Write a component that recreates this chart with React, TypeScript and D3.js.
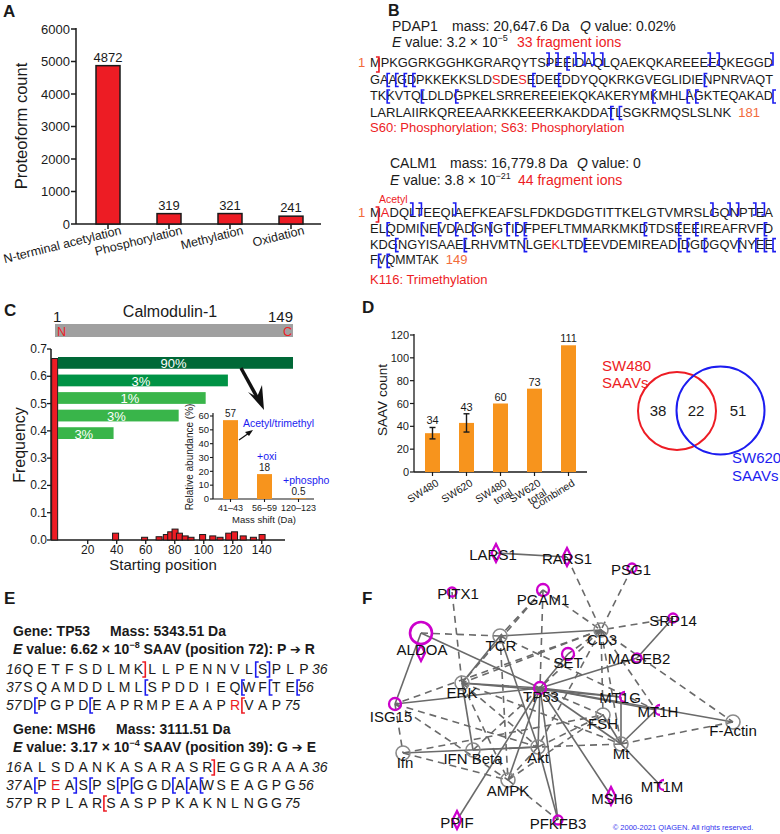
import React from 'react';
import * as d3 from 'd3';

const FONT = "'Liberation Sans', Arial, Helvetica, sans-serif";
const RED = '#ED1C24';
const BLUE = '#1C1CF0';
const ORANGE = '#F7941D';
const SEQ_ORANGE = '#F26B3A';
const MAGENTA = '#CC00CC';
const INK = '#1a1a1a';

// ---------- Panel A ----------
const ptmCategories = ['N-terminal acetylation', 'Phosphorylation', 'Methylation', 'Oxidation'];
const ptmCounts = [4872, 319, 321, 241];
const ptmTicks = [0, 1000, 2000, 3000, 4000, 5000, 6000];

// ---------- Panel B ----------
const pdap1Rows = [
  'MPKGGRKGGHKGRARQYTSPEEIDAQLQAEKQKAREEEEQKEGGD',
  'GAAGDPKKEKKSLDSDESEDEEDDYQQKRKGVEGLIDIENPNRVAQT',
  'TKKVTQLDLDGPKELSRREREEIEKQKAKERYMKMHLAGKTEQAKAD',
  'LARLAIIRKQREEAARKKEEERKAKDDATLSGKRMQSLSLNK',
];
const pdap1Starts = [1, 46, 93, 140];
const pdap1Mods = [60, 63];
const pdap1BIons = [20, 21, 23, 24, 25, 26, 38, 39, 45];
const pdap1YIons = [22, 47, 48, 49, 50, 64, 67, 84, 94, 98, 102, 125, 129, 130, 139, 167, 168];
const calm1Rows = [
  'MADQLTEEQIAEFKEAFSLFDKDGDGTITTKELGTVMRSLGQNPTEA',
  'ELQDMINEVDADGNGTIDFPEFLTMMARKMKDTDSEEEIREAFRVFD',
  'KDGNGYISAAELRHVMTNLGEKLTDEEVDEMIREADIDGDGQVNYEE',
  'FVQMMTAK',
];
const calm1Starts = [1, 48, 95, 142];
const calm1Mods = [2, 116];
const calm1BIons = [5, 6, 10, 40, 42, 43, 45, 46];
const calm1YIons = [49, 53, 55, 57, 59, 61, 63, 64, 65, 79, 83, 85, 93, 97, 105, 112, 119, 130, 131, 133, 137, 139, 140, 141, 142, 143];

// ---------- Panel C ----------
const coverageLabels = ['90%', '3%', '1%', '3%', '3%'];
const coverageEnds = [149, 108, 94, 77, 36];
const coverageColors = ['#006837', '#009245', '#39B54A', '#39B54A', '#39B54A'];
const startPositions = [1, 43, 63, 73, 78, 81, 84, 87, 91, 95, 103, 110, 115, 121, 125, 131, 138, 144];
const startFreqs = [0.665, 0.025, 0.01, 0.012, 0.02, 0.03, 0.04, 0.025, 0.015, 0.01, 0.02, 0.015, 0.01, 0.025, 0.03, 0.015, 0.01, 0.02];
const cTicksY = [0, 0.1, 0.2, 0.3, 0.4, 0.5, 0.6, 0.7];
const cTicksX = [20, 40, 60, 80, 100, 120, 140];
const shiftCats = ['41–43', '56–59', '120–123'];
const shiftAbund = [57, 18, 0.5];
const shiftLabels = ['57', '18', '0.5'];
const insetTicks = [0, 10, 20, 30, 40, 50, 60];

// ---------- Panel D ----------
const saavCats = ['SW480', 'SW620', 'SW480 total', 'SW620 total', 'Combined'];
const saavCounts = [34, 43, 60, 73, 111];
const saavErr = [5, 8, 0, 0, 0];
const saavTicks = [0, 20, 40, 60, 80, 100, 120];
const vennCounts = [38, 22, 51];

// ---------- Panel E ----------
const tp53Rows = ['QETFSDLMKLLPENNVLSPLP', 'SQAMDDLMLSPDDIEQWFTE', 'DPGPDEAPRMPEAAPRVAP'];
const tp53Starts = [16, 37, 57];
const tp53Saav = 72;
const tp53Open = [32, 45, 52, 54, 56, 57, 61];
const tp53Close = [33];
const tp53RedOpen = [72];
const tp53RedClose = [24];
const msh6Rows = ['ALSDANKASARASREGGRAAA', 'APEASPSPGGDAAWSEAGPG', 'PRPLARSASPPKAKNLNGG'];
const msh6Starts = [16, 37, 57];
const msh6Saav = 39;
const msh6Open = [37, 41, 43, 44, 47, 48, 49];
const msh6Close = [40];
const msh6RedOpen = [62];
const msh6RedClose = [29];

// ---------- Panel F ----------
const netIds = ['LARS1', 'RARS1', 'PSG1', 'PITX1', 'PGAM1', 'SRP14', 'ALDOA', 'TCR', 'CD3', 'SET', 'MAGEB2', 'ERK', 'TP53', 'MT1G', 'MT1H', 'ISG15', 'FSH', 'F-Actin', 'Mt', 'Ifn', 'IFN Beta', 'Akt', 'AMPK', 'MT1M', 'MSH6', 'PPIF', 'PFKFB3'];
const netX = [116, 187, 252, 72, 163, 293, 41, 120, 221, 188, 257, 82, 160, 241, 276, 15, 223, 353, 241, 23, 93, 158, 128, 280, 231, 77, 178];
const netY = [13, 17, 28, 52, 50, 78, 93, 96, 90, 114, 118, 143, 148, 157, 170, 164, 175, 182, 204, 213, 210, 207, 240, 245, 256, 280, 280];
const netShapes = ['diamond', 'diamond', 'small', 'small', 'ring', 'small', 'aldoa', 'gray', 'gray', 'ring', 'small', 'gray', 'ring', 'cshape', 'cshape', 'ring', 'gray', 'gray', 'gray', 'gray', 'gray', 'gray', 'gray', 'cshape', 'diamond', 'diamond', 'small'];
const netLabelDx = [-3, 0, -1, 6, 0, 0, 1, 1, 1, 0, 2, 0, 1, -1, 2, -4, 0, 0, 0, 2, 0, 0, 0, 2, 1, 0, 0];
const netLabelDy = [1, 1, 1, 1, 9, 2, 16, 9, 9, 8, 0, 9, 8, 0, 1, 12, 8, 8, 9, 9, 8, 10, 10, 1, 2, 2, 3];
const netSolid = [
  ['LARS1', 'RARS1'], ['SRP14', 'MAGEB2'], ['MAGEB2', 'TP53'], ['ALDOA', 'TP53'], ['ALDOA', 'ISG15'],
  ['TCR', 'CD3'], ['TCR', 'ERK'], ['TCR', 'Akt'], ['SET', 'TP53'], ['ERK', 'TP53'], ['ERK', 'MT1G'],
  ['ISG15', 'TP53'], ['TP53', 'MT1G'], ['TP53', 'MT1H'], ['TP53', 'F-Actin'], ['TP53', 'Mt'], ['TP53', 'Akt'],
  ['TP53', 'AMPK'], ['TP53', 'PFKFB3'], ['TP53', 'MSH6'], ['TP53', 'PPIF'], ['MT1G', 'Mt'], ['MT1H', 'Mt'],
  ['Mt', 'MT1M'], ['Mt', 'FSH'], ['Akt', 'PFKFB3'], ['Akt', 'IFN Beta'], ['Akt', 'Ifn'], ['ERK', 'IFN Beta'],
];
const netDashed = [
  ['RARS1', 'CD3'], ['PSG1', 'CD3'], ['PITX1', 'ERK'], ['PGAM1', 'TCR'], ['PGAM1', 'CD3'], ['PGAM1', 'TP53'],
  ['PGAM1', 'ERK'], ['SRP14', 'CD3'], ['ALDOA', 'TCR'], ['TCR', 'MT1H'], ['TCR', 'AMPK'], ['CD3', 'SET'],
  ['CD3', 'TP53'], ['CD3', 'ERK'], ['CD3', 'Mt'], ['CD3', 'F-Actin'], ['CD3', 'MT1H'], ['CD3', 'FSH'],
  ['CD3', 'Akt'], ['CD3', 'ISG15'], ['ERK', 'Akt'], ['ERK', 'AMPK'], ['ERK', 'Mt'], ['ISG15', 'Akt'],
  ['ISG15', 'AMPK'], ['ISG15', 'Ifn'], ['TP53', 'FSH'], ['TP53', 'IFN Beta'], ['Mt', 'F-Actin'], ['Mt', 'Akt'],
  ['Akt', 'AMPK'], ['Akt', 'FSH'], ['Ifn', 'AMPK'], ['Ifn', 'FSH'], ['AMPK', 'PFKFB3'], ['AMPK', 'FSH'],
];

function PanelLabel({ x, y, t, size = 17 }: { x: number; y: number; t: string; size?: number }) {
  return <text x={x} y={y} fontSize={size} fontWeight="bold" fill={INK}>{t}</text>;
}

function PanelA() {
  const y = d3.scaleLinear().domain([0, 6000]).range([224, 29]);
  const x = d3.scalePoint<string>().domain(ptmCategories).range([108, 291]);
  const bw = 24;
  return (
    <g>
      <PanelLabel x={3} y={17} t="A" />
      <line x1={76} x2={76} y1={28} y2={224} stroke={INK} strokeWidth={1.5} />
      <line x1={76} x2={321} y1={224} y2={224} stroke={INK} strokeWidth={1.5} />
      {ptmTicks.map((t) => (
        <g key={t}>
          <line x1={71} x2={76} y1={y(t)} y2={y(t)} stroke={INK} strokeWidth={1.5} />
          <text x={70} y={y(t) + 4.5} textAnchor="end" fontSize={13} fill={INK}>{t}</text>
        </g>
      ))}
      {ptmCategories.map((c, i) => (
        <g key={c}>
          <rect x={x(c)! - bw / 2} y={y(ptmCounts[i])} width={bw} height={224 - y(ptmCounts[i])} fill={RED} stroke={INK} strokeWidth={1.5} />
          <text x={x(c)!} y={y(ptmCounts[i]) - 4} textAnchor="middle" fontSize={13} fill={INK}>{ptmCounts[i]}</text>
          <line x1={x(c)!} x2={x(c)!} y1={224} y2={229} stroke={INK} strokeWidth={1.5} />
          <text transform={`translate(${x(c)! + 14},${234}) rotate(-14)`} textAnchor="end" fontSize={12.5} fill={INK}>{c}</text>
        </g>
      ))}
      <text transform="translate(27,126) rotate(-90)" textAnchor="middle" fontSize={16.5} fill={INK}>Proteoform count</text>
    </g>
  );
}

function Bracket({ x, y, kind, color }: { x: number; y: number; kind: 'b' | 'y' | 'open' | 'close'; color: string }) {
  let d = '';
  if (kind === 'b') d = `M${x - 3},${y - 14} H${x} V${y - 2} H${x - 3}`;
  else if (kind === 'y') d = `M${x + 3},${y - 10} H${x} V${y + 3} H${x + 3}`;
  else if (kind === 'close') d = `M${x - 3},${y - 12} H${x} V${y + 3} H${x - 3}`;
  else d = `M${x + 3},${y - 12} H${x} V${y + 3} H${x + 3}`;
  return <path d={d} fill="none" stroke={color} strokeWidth={1.6} />;
}

function SeqBlock({ rows, starts, mods, bIons, yIons, y0, dy, total }: any) {
  const x0 = 370;
  const fullW = 403;
  const cwDefault = 8.6;
  return (
    <g>
      <text x={358} y={y0} fontSize={13} fill={SEQ_ORANGE}>1</text>
      {rows.map((row: string, r: number) => {
        const n = row.length;
        const w = r < rows.length - 1 ? fullW : n * cwDefault;
        const cw = w / n;
        const base = y0 + r * dy;
        const start = starts[r];
        const inRow = (k: number) => k >= start && k <= start + n - 1;
        const bx = (k: number) => x0 + (k - start + 1) * cw;
        return (
          <g key={r}>
            <text x={x0} y={base} fontSize={13} fill={INK} textLength={w} lengthAdjust="spacingAndGlyphs">
              {row.split('').map((ch, i) => (
                <tspan key={i} fill={mods.includes(start + i) ? RED : INK}>{ch}</tspan>
              ))}
            </text>
            {r === 0 && <Bracket x={bx(1)} y={base + 2} kind="close" color={RED} />}
            {bIons.filter(inRow).map((k: number) => <Bracket key={'b' + k} x={bx(k)} y={base} kind="b" color={BLUE} />)}
            {yIons.filter(inRow).map((k: number) => <Bracket key={'y' + k} x={bx(k)} y={base} kind="y" color={BLUE} />)}
            {r === rows.length - 1 && <text x={x0 + w + 7} y={base} fontSize={13} fill={SEQ_ORANGE}>{total}</text>}
          </g>
        );
      })}
    </g>
  );
}

function PanelB() {
  return (
    <g fill={INK}>
      <PanelLabel x={388} y={16} t="B" size={16} />
      <text y={31} fontSize={14} fill={INK}>
        <tspan x={392}>PDAP1</tspan>
        <tspan x={452}>mass: 20,647.6 Da</tspan>
        <tspan x={580} fontStyle="italic">Q</tspan>
        <tspan> value: 0.02%</tspan>
      </text>
      <text y={47} fontSize={14} fill={INK}>
        <tspan x={392} fontStyle="italic">E</tspan>
        <tspan> value: 3.2 × 10</tspan>
        <tspan fontSize={9} dy={-6}>−5</tspan>
        <tspan x={517} dy={6} fill={RED}>33 fragment ions</tspan>
      </text>
      <SeqBlock rows={pdap1Rows} starts={pdap1Starts} mods={pdap1Mods} bIons={pdap1BIons} yIons={pdap1YIons} y0={67} dy={16.5} total={181} />
      <text x={370} y={132} fontSize={13} fill={RED}>S60: Phosphorylation; S63: Phosphorylation</text>

      <text y={168} fontSize={14} fill={INK}>
        <tspan x={390}>CALM1</tspan>
        <tspan x={450}>mass: 16,779.8 Da</tspan>
        <tspan x={577} fontStyle="italic">Q</tspan>
        <tspan> value: 0</tspan>
      </text>
      <text y={185} fontSize={14} fill={INK}>
        <tspan x={390} fontStyle="italic">E</tspan>
        <tspan> value: 3.8 × 10</tspan>
        <tspan fontSize={9} dy={-6}>−21</tspan>
        <tspan x={518} dy={6} fill={RED}>44 fragment ions</tspan>
      </text>
      <text x={379} y={203} fontSize={10.5} fill={RED}>Acetyl</text>
      <SeqBlock rows={calm1Rows} starts={calm1Starts} mods={calm1Mods} bIons={calm1BIons} yIons={calm1YIons} y0={217} dy={15.8} total={149} />
      <text x={370} y={284} fontSize={13} fill={RED}>K116: Trimethylation</text>
    </g>
  );
}

function PanelC() {
  const xC = d3.scaleLinear().domain([-6, 156]).range([50, 285]);
  const yC = d3.scaleLinear().domain([0, 0.7]).range([540, 349]);
  const xS = d3.scaleLinear().domain([1, 149]).range([58, 293]);
  const band = d3.scaleBand<number>().domain(coverageEnds.map((_, i) => i)).range([357, 439]).paddingInner(0.33).paddingOuter(0);
  const yI = d3.scaleLinear().domain([0, 60]).range([499, 416]);
  const xI = d3.scalePoint<string>().domain(shiftCats).range([230.5, 298.5]);
  return (
    <g>
      <PanelLabel x={4} y={316} t="C" />
      <text x={170} y={317} textAnchor="middle" fontSize={16} fill={INK}>Calmodulin-1</text>
      <text x={53} y={322} fontSize={15} fill={INK}>1</text>
      <text x={293} y={322} textAnchor="end" fontSize={15} fill={INK}>149</text>
      <rect x={55} y={324} width={238} height={13} fill="#A0A0A0" />
      <text x={57} y={336} fontSize={12.5} fill={RED}>N</text>
      <text x={292} y={336} textAnchor="end" fontSize={12.5} fill={RED}>C</text>

      {/* axes */}
      <line x1={51} x2={51} y1={349} y2={540} stroke={INK} strokeWidth={1.5} />
      <line x1={51} x2={285} y1={540} y2={540} stroke={INK} strokeWidth={1.5} />
      {cTicksY.map((t) => (
        <g key={t}>
          <line x1={47} x2={51} y1={yC(t)} y2={yC(t)} stroke={INK} strokeWidth={1.3} />
          <text x={47} y={yC(t) + 4} textAnchor="end" fontSize={12} fill={INK}>{t.toFixed(1)}</text>
        </g>
      ))}
      {cTicksX.map((t) => (
        <g key={t}>
          <line x1={xC(t)} x2={xC(t)} y1={540} y2={544} stroke={INK} strokeWidth={1.3} />
          <text x={xC(t)} y={554} textAnchor="middle" fontSize={12} fill={INK}>{t}</text>
        </g>
      ))}
      <text x={163} y={570} textAnchor="middle" fontSize={15} fill={INK}>Starting position</text>
      <text transform="translate(25,445) rotate(-90)" textAnchor="middle" fontSize={16} fill={INK}>Frequency</text>

      {startPositions.map((p, i) => (
        <rect key={i} x={xC(p) - 8.5} y={yC(startFreqs[i])} width={6} height={540 - yC(startFreqs[i])} fill={RED} stroke={INK} strokeWidth={1} />
      ))}

      {coverageEnds.map((e, i) => (
        <g key={i}>
          <rect x={xS(1)} y={band(i)} width={xS(e) - xS(1)} height={band.bandwidth()} fill={coverageColors[i]} />
          <text x={(xS(1) + xS(e)) / 2 - 2} y={band(i)! + band.bandwidth() - 0.5} textAnchor="middle" fontSize={13} fill="#fff">{coverageLabels[i]}</text>
        </g>
      ))}

      {/* big arrow */}
      <line x1={241} y1={368} x2={258} y2={399} stroke="#111" strokeWidth={3.5} />
      <path d="M264,410 L248,392 L257,397 L262,385 Z" fill="#111" />

      {/* inset */}
      <line x1={213} x2={213} y1={413} y2={499} stroke={INK} strokeWidth={1.2} />
      <line x1={213} x2={314} y1={499} y2={499} stroke={INK} strokeWidth={1.2} />
      {insetTicks.map((t) => (
        <g key={t}>
          <line x1={210} x2={213} y1={yI(t)} y2={yI(t)} stroke={INK} strokeWidth={1.1} />
          <text x={209} y={yI(t) + 3.2} textAnchor="end" fontSize={9.5} fill={INK}>{t}</text>
        </g>
      ))}
      {shiftCats.map((c, i) => (
        <g key={c}>
          <rect x={xI(c)! - 7.5} y={yI(shiftAbund[i])} width={15} height={499 - yI(shiftAbund[i])} fill={ORANGE} />
          <text x={xI(c)!} y={yI(shiftAbund[i]) - 3} textAnchor="middle" fontSize={10} fill={INK}>{shiftLabels[i]}</text>
          <line x1={xI(c)!} x2={xI(c)!} y1={499} y2={502} stroke={INK} strokeWidth={1.1} />
          <text x={xI(c)!} y={511} textAnchor="middle" fontSize={9} fill={INK}>{c}</text>
        </g>
      ))}
      <text x={264} y={523} textAnchor="middle" fontSize={9.5} fill={INK}>Mass shift (Da)</text>
      <text transform="translate(193,457) rotate(-90)" textAnchor="middle" fontSize={10} fill={INK}>Relative abundance (%)</text>
      <text x={243} y={427} fontSize={10.5} fill={BLUE}>Acetyl/trimethyl</text>
      <line x1={239} y1={440} x2={249} y2={433} stroke="#111" strokeWidth={1.2} />
      <path d="M253,430 L245,432 L249,436 Z" fill="#111" />
      <text x={257} y={460} fontSize={10.5} fill={BLUE}>+oxi</text>
      <text x={283} y={484} fontSize={10.5} fill={BLUE}>+phospho</text>
    </g>
  );
}

function PanelD() {
  const y = d3.scaleLinear().domain([0, 120]).range([472, 335]);
  const x = d3.scalePoint<string>().domain(saavCats).range([432.5, 568.5]);
  const bw = 15;
  return (
    <g>
      <PanelLabel x={362} y={313} t="D" />
      <line x1={414} x2={414} y1={334} y2={472} stroke={INK} strokeWidth={1.3} />
      <line x1={414} x2={587} y1={472} y2={472} stroke={INK} strokeWidth={1.3} />
      {saavTicks.map((t) => (
        <g key={t}>
          <line x1={410} x2={414} y1={y(t)} y2={y(t)} stroke={INK} strokeWidth={1.2} />
          <text x={409} y={y(t) + 4} textAnchor="end" fontSize={11} fill={INK}>{t}</text>
        </g>
      ))}
      {saavCats.map((c, i) => {
        const cx = x(c)!;
        const top = saavErr[i] > 0 ? y(saavCounts[i] + saavErr[i]) : y(saavCounts[i]);
        const lines = c.split(' ');
        return (
          <g key={c}>
            <rect x={cx - bw / 2} y={y(saavCounts[i])} width={bw} height={472 - y(saavCounts[i])} fill={ORANGE} />
            {saavErr[i] > 0 && (
              <g stroke={INK} strokeWidth={1.4}>
                <line x1={cx} x2={cx} y1={y(saavCounts[i] - saavErr[i])} y2={y(saavCounts[i] + saavErr[i])} />
                <line x1={cx - 3} x2={cx + 3} y1={y(saavCounts[i] - saavErr[i])} y2={y(saavCounts[i] - saavErr[i])} />
                <line x1={cx - 3} x2={cx + 3} y1={y(saavCounts[i] + saavErr[i])} y2={y(saavCounts[i] + saavErr[i])} />
              </g>
            )}
            <text x={cx} y={top - 3} textAnchor="middle" fontSize={11} fill={INK}>{saavCounts[i]}</text>
            <line x1={cx} x2={cx} y1={472} y2={476} stroke={INK} strokeWidth={1.2} />
            <text transform={`translate(${cx + 7},${485}) rotate(-32)`} textAnchor="end" fontSize={10.5} fill={INK}>
              {lines.map((l, j) => (
                <tspan key={j} x={0} dy={j === 0 ? 0 : 11}>{l}</tspan>
              ))}
            </text>
          </g>
        );
      })}
      <text transform="translate(387,400) rotate(-90)" textAnchor="middle" fontSize={13.5} fill={INK}>SAAV count</text>

      {/* Venn */}
      <circle cx={677} cy={411} r={39} fill="none" stroke={RED} strokeWidth={2} />
      <circle cx={720.5} cy={410.5} r={44} fill="none" stroke={BLUE} strokeWidth={2} />
      <text x={658} y={416} textAnchor="middle" fontSize={15} fill={INK}>{vennCounts[0]}</text>
      <text x={696} y={416} textAnchor="middle" fontSize={15} fill={INK}>{vennCounts[1]}</text>
      <text x={738} y={416} textAnchor="middle" fontSize={15} fill={INK}>{vennCounts[2]}</text>
      <text x={602} y={371} fontSize={15} fill={RED}>SW480</text>
      <text x={602} y={388} fontSize={15} fill={RED}>SAAVs</text>
      <text x={732} y={463} fontSize={15} fill={BLUE}>SW620</text>
      <text x={732} y={481} fontSize={15} fill={BLUE}>SAAVs</text>
    </g>
  );
}

function SaavBlock({ y0, gene, mass, massX, evalue, exp, saavText, rows, starts, saav, open, close, redOpen, redClose }: any) {
  const sp = 13.8;
  const lx = d3.scaleLinear().domain([0, 1]).range([28, 28 + sp]);
  return (
    <g>
      <text y={y0} fontSize={14} fontWeight="bold" fill={INK}>
        <tspan x={13}>Gene: {gene}</tspan>
        <tspan x={massX}>Mass: {mass} Da</tspan>
      </text>
      <text y={y0 + 18} fontSize={14} fontWeight="bold" fill={INK}>
        <tspan x={13} fontStyle="italic">E</tspan>
        <tspan> value: {evalue} × 10</tspan>
        <tspan fontSize={9} dy={-6}>{exp}</tspan>
        <tspan dy={6}> {saavText[0]} </tspan>
        <tspan fontFamily="'DejaVu Sans', sans-serif" fontSize={13}>➔</tspan>
        <tspan> {saavText[1]}</tspan>
      </text>
      {rows.map((row: string, r: number) => {
        const base = y0 + 38 + r * 18;
        const start = starts[r];
        const n = row.length;
        const inRow = (k: number) => k >= start && k <= start + n - 1;
        const bx = (k: number) => lx(k - start + 0.5);
        return (
          <g key={r}>
            <text x={6} y={base} fontSize={14} fontStyle="italic" fill={INK}>{start}</text>
            {row.split('').map((ch, i) => (
              <text key={i} x={lx(i)} y={base} textAnchor="middle" fontSize={14} fill={start + i === saav ? RED : INK}>{ch}</text>
            ))}
            <text x={lx(n - 1) + 8} y={base} fontSize={14} fontStyle="italic" fill={INK}>{start + n - 1}</text>
            {open.filter(inRow).map((k: number) => <Bracket key={'o' + k} x={bx(k)} y={base} kind="open" color={BLUE} />)}
            {close.filter(inRow).map((k: number) => <Bracket key={'c' + k} x={bx(k)} y={base} kind="close" color={BLUE} />)}
            {redOpen.filter(inRow).map((k: number) => <Bracket key={'ro' + k} x={bx(k)} y={base} kind="open" color={RED} />)}
            {redClose.filter(inRow).map((k: number) => <Bracket key={'rc' + k} x={bx(k)} y={base} kind="close" color={RED} />)}
          </g>
        );
      })}
    </g>
  );
}

function PanelE() {
  return (
    <g>
      <PanelLabel x={4} y={604} t="E" />
      <SaavBlock y0={636} gene="TP53" mass="5343.51" massX={110} evalue="6.62" exp="−8" saavText={['SAAV (position 72): P', 'R']}
        rows={tp53Rows} starts={tp53Starts} saav={tp53Saav} open={tp53Open} close={tp53Close} redOpen={tp53RedOpen} redClose={tp53RedClose} />
      <SaavBlock y0={734} gene="MSH6" mass="3111.51" massX={116} evalue="3.17" exp="−4" saavText={['SAAV (position 39): G', 'E']}
        rows={msh6Rows} starts={msh6Starts} saav={msh6Saav} open={msh6Open} close={msh6Close} redOpen={msh6RedOpen} redClose={msh6RedClose} />
    </g>
  );
}

function NodeShape({ x, y, shape }: { x: number; y: number; shape: string }) {
  const sw = 2.3;
  if (shape === 'gray') return <circle cx={x} cy={y} r={7} fill="none" stroke="#8a8a8a" strokeWidth={1.6} />;
  if (shape === 'diamond') return <path d={`M${x},${y - 9} L${x + 4.5},${y} L${x},${y + 9} L${x - 4.5},${y} Z`} fill="none" stroke={MAGENTA} strokeWidth={sw} />;
  if (shape === 'ring') return <circle cx={x} cy={y} r={6} fill="none" stroke={MAGENTA} strokeWidth={sw} />;
  if (shape === 'small') return <circle cx={x} cy={y} r={4.5} fill="none" stroke={MAGENTA} strokeWidth={sw} />;
  if (shape === 'cshape') return <path d={`M${x + 4},${y - 5} A5,5 0 1 0 ${x + 4},${y + 5}`} fill="none" stroke={MAGENTA} strokeWidth={sw} />;
  if (shape === 'aldoa') return (
    <g>
      <circle cx={x} cy={y} r={11} fill="none" stroke={MAGENTA} strokeWidth={2.6} />
      <path d={`M${x},${y + 12} L${x + 4},${y + 20} L${x},${y + 28} L${x - 4},${y + 20} Z`} fill="none" stroke={MAGENTA} strokeWidth={sw} />
    </g>
  );
  return null;
}

function PanelF() {
  const sx = d3.scaleLinear().domain([0, 400]).range([380, 780]);
  const sy = d3.scaleLinear().domain([0, 300]).range([540, 840]);
  const idx = (id: string) => netIds.indexOf(id);
  const px = (id: string) => sx(netX[idx(id)]);
  const py = (id: string) => sy(netY[idx(id)]);
  return (
    <g>
      <PanelLabel x={362} y={604} t="F" />
      {netDashed.map(([a, b], i) => (
        <line key={'d' + i} x1={px(a)} y1={py(a)} x2={px(b)} y2={py(b)} stroke="#6a6a6a" strokeWidth={1.6} strokeDasharray="7,5" />
      ))}
      {netSolid.map(([a, b], i) => (
        <line key={'s' + i} x1={px(a)} y1={py(a)} x2={px(b)} y2={py(b)} stroke="#6a6a6a" strokeWidth={1.6} />
      ))}
      {netIds.map((id, i) => (
        <g key={id}>
          <NodeShape x={sx(netX[i])} y={sy(netY[i])} shape={netShapes[i]} />
          <text x={sx(netX[i]) + netLabelDx[i]} y={sy(netY[i]) + netLabelDy[i] + 5.5} textAnchor="middle" fontSize={15} fill="#111">{id}</text>
        </g>
      ))}
      <text x={683} y={830} textAnchor="middle" fontSize={7.5} fill="#3333ee">© 2000-2021 QIAGEN. All rights reserved.</text>
    </g>
  );
}

export default function App() {
  return (
    <svg width={780} height={834} style={{ position: 'absolute', left: 0, top: 0 }} fontFamily={FONT}>
      <rect width={780} height={834} fill="#fff" />
      <PanelA />
      <PanelB />
      <PanelC />
      <PanelD />
      <PanelE />
      <PanelF />
    </svg>
  );
}
